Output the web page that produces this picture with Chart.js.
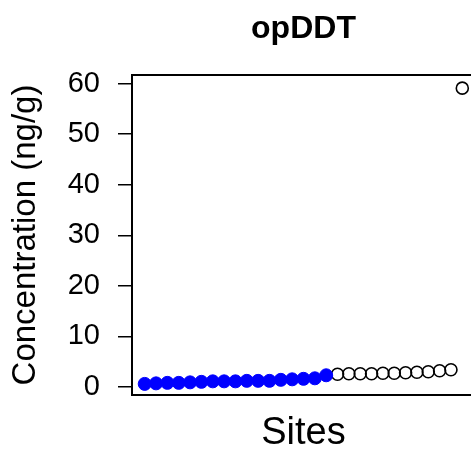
<!DOCTYPE html>
<html>
<head>
<meta charset="utf-8">
<script src="https://cdn.jsdelivr.net/npm/chart.js@4"></script>
<style>
  html, body { margin: 0; padding: 0; background: #fff; overflow: hidden; }
  #wrap { width: 471px; height: 459px; overflow: hidden; }
</style>
</head>
<body>
<div id="wrap"><canvas id="myChart" width="476" height="459"></canvas></div>
<script>
// values, sorted by concentration
var blueValues = [0.6, 0.7, 0.8, 0.8, 0.9, 1.0, 1.1, 1.1, 1.1, 1.2, 1.2, 1.2, 1.4, 1.5, 1.6, 1.7, 2.3];
var openValues = [2.5, 2.6, 2.6, 2.6, 2.7, 2.7, 2.8, 2.9, 3.0, 3.2, 3.4, 59.1];
var yTicks = [0, 10, 20, 30, 40, 50, 60];
var chartTitle = "opDDT";
var xTitle = "Sites";
var yTitle = "Concentration (ng/g)";

window.onload = function () {
  var font = 'Arial, "Liberation Sans", sans-serif';

  // site index runs across both groups
  var bluePoints = blueValues.map(function (v, i) {
    return { x: i + 1, y: v };
  });
  var openPoints = openValues.map(function (v, i) {
    return { x: blueValues.length + i + 1, y: v };
  });
  var n = blueValues.length + openValues.length;
  var pad = 0.04 * (n - 1);

  // box round the plot, title centred over it
  var boxPlugin = {
    id: "box",
    afterDraw: function (chart) {
      var a = chart.chartArea;
      var c = chart.ctx;
      c.save();
      c.strokeStyle = "#000";
      c.lineWidth = 2;
      c.strokeRect(a.left, a.top, a.right - a.left, a.bottom - a.top);
      c.fillStyle = "#000";
      c.font = "bold 32px " + font;
      c.textAlign = "center";
      c.textBaseline = "middle";
      c.fillText(chartTitle, (a.left + a.right) / 2, 29);
      c.restore();
    }
  };

  var ctx = document.getElementById("myChart").getContext("2d");
  new Chart(ctx, {
    type: "scatter",
    data: {
      datasets: [
        {
          data: bluePoints,
          pointRadius: 6.5,
          pointBackgroundColor: "#0000ff",
          pointBorderColor: "#0000ff",
          pointBorderWidth: 1
        },
        {
          data: openPoints,
          pointRadius: 6,
          pointBackgroundColor: "rgba(0,0,0,0)",
          pointBorderColor: "#000",
          pointBorderWidth: 1.6
        }
      ]
    },
    options: {
      responsive: false,
      animation: false,
      layout: { autoPadding: false, padding: { left: 0, right: 1, top: 75, bottom: 0 } },
      plugins: {
        legend: { display: false },
        tooltip: { enabled: false },
        title: { display: false }
      },
      scales: {
        x: {
          type: "linear",
          min: 1 - pad,
          max: n + pad,
          grid: { display: false },
          border: { display: false },
          ticks: { display: false },
          title: {
            display: true,
            text: xTitle,
            color: "#000",
            font: { family: font, size: 38 },
            padding: { top: 0, bottom: 3 }
          },
          afterFit: function (scale) { scale.height = 64; }
        },
        y: {
          min: -1.6,
          max: 61.7,
          afterBuildTicks: function (scale) {
            scale.ticks = yTicks.map(function (v) { return { value: v }; });
          },
          grid: {
            display: true,
            drawOnChartArea: false,
            drawTicks: true,
            tickLength: 14,
            color: "#000",
            lineWidth: 1.5
          },
          border: { display: false },
          ticks: {
            color: "#000",
            padding: 18,
            font: { family: font, size: 29 }
          },
          title: {
            display: true,
            text: yTitle,
            color: "#000",
            font: { family: font, size: 33 },
            padding: { top: 6, bottom: 0 }
          },
          afterFit: function (scale) { scale.width = 132; }
        }
      }
    },
    plugins: [boxPlugin]
  });
};
</script>
</body>
</html>
